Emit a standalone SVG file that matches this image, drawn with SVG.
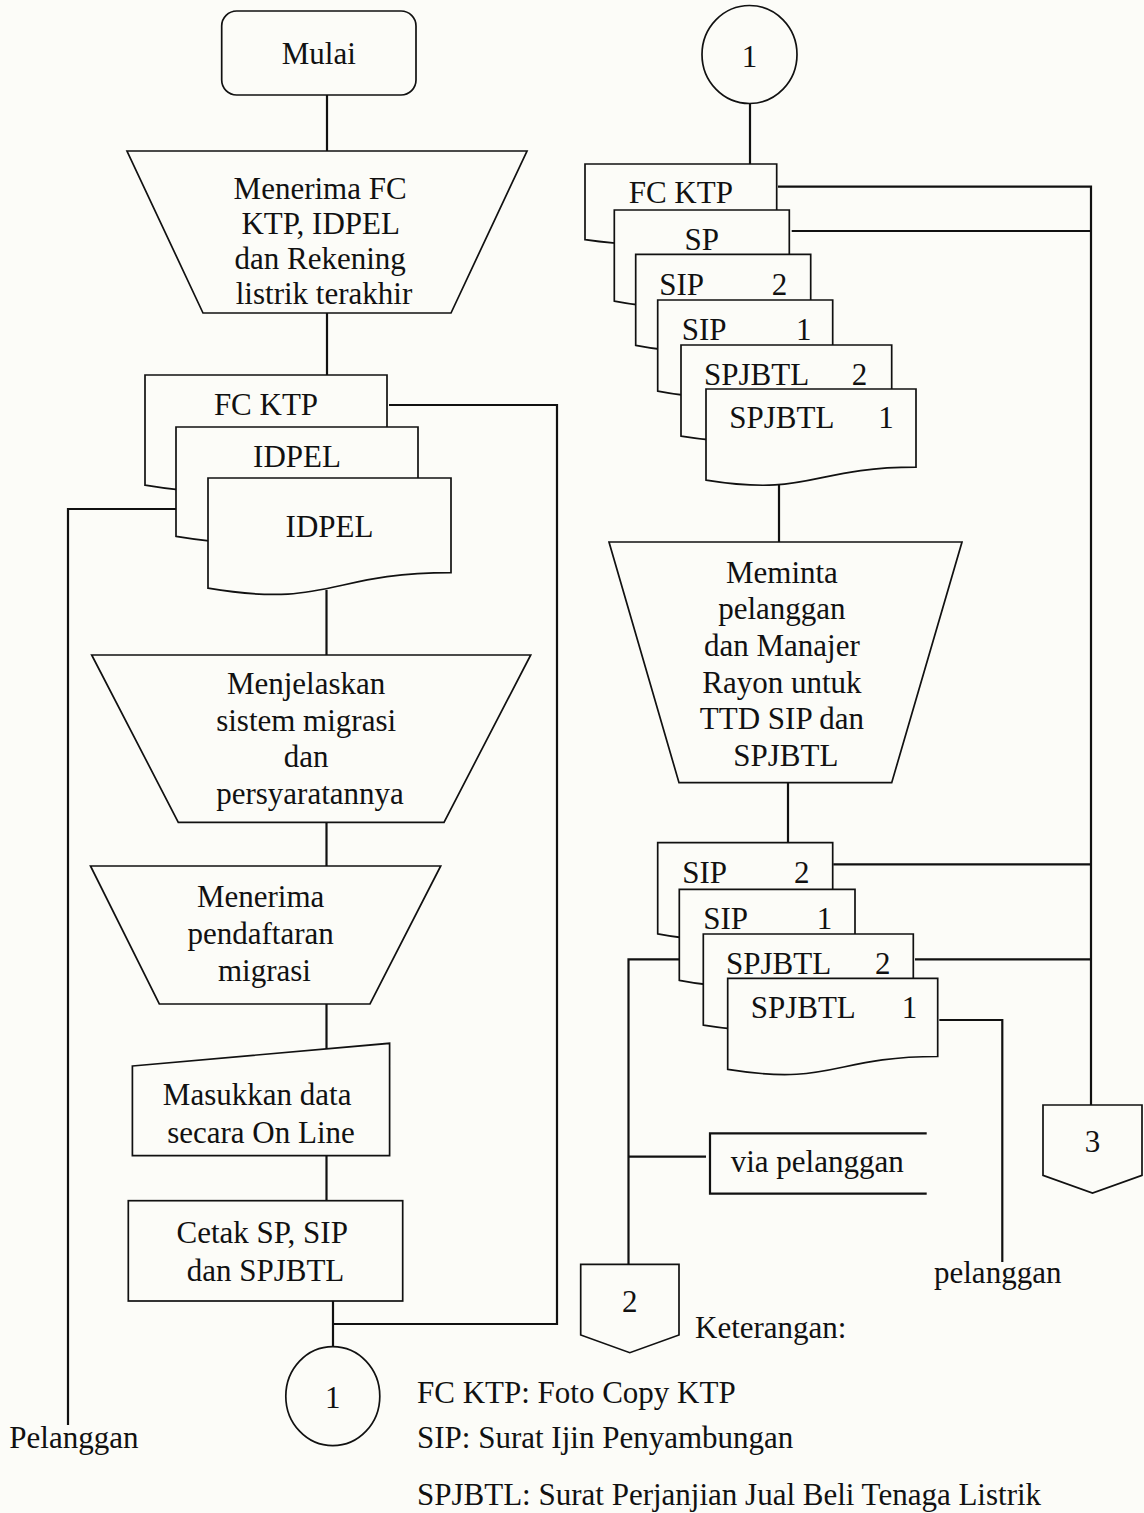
<svg xmlns="http://www.w3.org/2000/svg" width="1144" height="1513" viewBox="0 0 1144 1513">
  <style>
    .bg { fill: #fcfcf8; }
    .shape { fill: #fcfcf8; stroke: #111; stroke-width: 1.7; stroke-linejoin: miter; }
    .open { fill: none; stroke: #111; stroke-width: 2.2; }
    .conn { fill: none; stroke: #111; stroke-width: 2.2; stroke-linejoin: miter; }
    text { font-family: "Liberation Serif", "Times New Roman", serif; font-size: 31px; fill: #111; }
    .c { text-anchor: middle; }
  </style>

  <rect class="bg" x="0" y="0" width="1144" height="1513"/>

  <!-- connectors (drawn first so shapes sit on top) -->
  <g id="connectors">
    <path class="conn" d="M327,95 V151"/>
    <path class="conn" d="M327,313 V375"/>
    <path class="conn" d="M389,405 H557 V1324 H333"/>
    <path class="conn" d="M176,509 H68 V1425"/>
    <path class="conn" d="M326.5,590 V655"/>
    <path class="conn" d="M326.5,822 V866"/>
    <path class="conn" d="M326.5,1004 V1050"/>
    <path class="conn" d="M326.5,1156 V1201"/>
    <path class="conn" d="M333,1301 V1347"/>
    <path class="conn" d="M750,103 V164"/>
    <path class="conn" d="M778,186.7 H1091 V1105"/>
    <path class="conn" d="M791.7,231 H1091"/>
    <path class="conn" d="M779,480 V542"/>
    <path class="conn" d="M788,782 V843"/>
    <path class="conn" d="M833.3,864.3 H1091"/>
    <path class="conn" d="M915,959.3 H1091"/>
    <path class="conn" d="M679.3,959.3 H628.5 V1264"/>
    <path class="conn" d="M628.5,1156.7 H706"/>
    <path class="conn" d="M939.3,1020 H1002.3 V1262"/>
  </g>

  <!-- start terminator -->
  <g id="mulai">
    <rect class="shape" x="221.7" y="11" width="194.3" height="84" rx="15" ry="15"/>
    <text class="c" x="318.8" y="64">Mulai</text>
  </g>

  <!-- manual operation: receive documents -->
  <g id="menerima-fc">
    <polygon class="shape" points="127,151 527,151 451,313 203,313"/>
    <text class="c" x="324" y="199">
      <tspan x="324" y="199">Menerima FC</tspan>
      <tspan x="324" y="234">KTP, IDPEL</tspan>
      <tspan x="324" y="269">dan Rekening</tspan>
      <tspan x="324" y="304">listrik terakhir</tspan>
    </text>
  </g>

  <!-- incoming documents stack -->
  <g id="dok-masuk">
    <path class="shape" d="M145,375 H387 V469.6 C266,469.6 266,505.7 145,485.2 Z"/>
    <text class="c" x="266" y="415">FC KTP</text>
    <path class="shape" d="M176,427 H418 V520.8 C297,520.8 297,556.6 176,536.3 Z"/>
    <text class="c" x="297" y="466.7">IDPEL</text>
    <path class="shape" d="M208,478 H451 V572.6 C329.5,572.6 329.5,608.7 208,588.2 Z"/>
    <text class="c" x="329.5" y="536.7">IDPEL</text>
  </g>

  <g id="menjelaskan">
    <polygon class="shape" points="91.7,655 530.7,655 444,822.3 178.3,822.3"/>
    <text class="c">
      <tspan x="310" y="694">Menjelaskan</tspan>
      <tspan x="310" y="730.5">sistem migrasi</tspan>
      <tspan x="310" y="767.3">dan</tspan>
      <tspan x="310" y="804">persyaratannya</tspan>
    </text>
  </g>

  <g id="menerima-daftar">
    <polygon class="shape" points="90.5,866 440.7,866 370,1004 159.3,1004"/>
    <text class="c">
      <tspan x="264.5" y="907.3">Menerima</tspan>
      <tspan x="264.5" y="944">pendaftaran</tspan>
      <tspan x="264.5" y="981">migrasi</tspan>
    </text>
  </g>

  <!-- manual input -->
  <g id="masukkan">
    <polygon class="shape" points="132.4,1066 389.6,1043.3 389.6,1155.7 132.4,1155.7"/>
    <text class="c">
      <tspan x="261" y="1105">Masukkan data</tspan>
      <tspan x="261" y="1142.7">secara On Line</tspan>
    </text>
  </g>

  <g id="cetak">
    <rect class="shape" x="128.3" y="1200.7" width="274.4" height="100.3"/>
    <text class="c">
      <tspan x="265.5" y="1243">Cetak SP, SIP</tspan>
      <tspan x="265.5" y="1280.7">dan SPJBTL</tspan>
    </text>
  </g>

  <g id="konektor-1-bawah">
    <ellipse class="shape" cx="332.8" cy="1396.2" rx="47" ry="49.5"/>
    <text class="c" x="332.8" y="1407.7">1</text>
  </g>

  <g id="pelanggan-kiri">
    <text x="9.3" y="1448">Pelanggan</text>
  </g>

  <g id="konektor-1-atas">
    <ellipse class="shape" cx="749.5" cy="54.5" rx="47.5" ry="49"/>
    <text class="c" x="749.5" y="66.7">1</text>
  </g>

  <!-- printed documents stack -->
  <g id="dok-cetak">
    <path class="shape" d="M585,164 H776.7 V229 C680.8,229 680.8,253.7 585,239.7 Z"/>
    <text class="c" x="680.8" y="203">FC KTP</text>
    <path class="shape" d="M614.3,210 H789.3 V288.2 C701.8,288.2 701.8,318 614.3,301.1 Z"/>
    <text class="c" x="701.8" y="250">SP</text>
    <path class="shape" d="M635.7,254.3 H810.7 V332.5 C723.2,332.5 723.2,362.3 635.7,345.4 Z"/>
    <text x="659.3" y="295">SIP</text><text x="771.7" y="295">2</text>
    <path class="shape" d="M657.7,300 H832.7 V378.2 C745.2,378.2 745.2,408 657.7,391.1 Z"/>
    <text x="681.7" y="340">SIP</text><text x="796" y="340">1</text>
    <path class="shape" d="M681,345 H891.7 V423.2 C786.35,423.2 786.35,453 681,436.1 Z"/>
    <text x="704" y="385">SPJBTL</text><text x="851.7" y="385">2</text>
    <path class="shape" d="M706,389 H916 V467.2 C811,467.2 811,497 706,480.1 Z"/>
    <text x="729.3" y="428.3">SPJBTL</text><text x="878.3" y="428.3">1</text>
  </g>

  <g id="meminta-ttd">
    <polygon class="shape" points="609,542 962,542 891.7,782.7 679,782.7"/>
    <text class="c">
      <tspan x="785.8" y="582.7">Meminta</tspan>
      <tspan x="785.8" y="619">pelanggan</tspan>
      <tspan x="785.8" y="655.5">dan Manajer</tspan>
      <tspan x="785.8" y="692.5">Rayon untuk</tspan>
      <tspan x="785.8" y="729.3">TTD SIP dan</tspan>
      <tspan x="785.8" y="766">SPJBTL</tspan>
    </text>
  </g>

  <!-- signed documents stack -->
  <g id="dok-ttd">
    <path class="shape" d="M657.7,842.7 H832.7 V920.9 C745.2,920.9 745.2,950.7 657.7,933.8 Z"/>
    <text x="682.3" y="883.3">SIP</text><text x="794" y="883.3">2</text>
    <path class="shape" d="M679.3,889.3 H855 V967.5 C767.15,967.5 767.15,997.3 679.3,980.4 Z"/>
    <text x="703.3" y="929.3">SIP</text><text x="816.7" y="929.3">1</text>
    <path class="shape" d="M703.3,934 H913.3 V1012.2 C808.3,1012.2 808.3,1042 703.3,1025.1 Z"/>
    <text x="726" y="974">SPJBTL</text><text x="875" y="974">2</text>
    <path class="shape" d="M727.7,978.3 H937.7 V1056.5 C832.7,1056.5 832.7,1086.3 727.7,1069.4 Z"/>
    <text x="750.7" y="1018.3">SPJBTL</text><text x="901.7" y="1018.3">1</text>
  </g>

  <!-- annotation bracket -->
  <g id="via-pelanggan">
    <path class="open" d="M926.7,1133.3 H710 V1193.7 H926.7"/>
    <text x="730.7" y="1171.7">via pelanggan</text>
  </g>

  <g id="pelanggan-kanan">
    <text x="934" y="1283.3">pelanggan</text>
  </g>

  <!-- off-page connectors -->
  <g id="offpage-2">
    <polygon class="shape" points="580.7,1264.3 679,1264.3 679,1335 629.8,1352.7 580.7,1335"/>
    <text class="c" x="629.8" y="1311.7">2</text>
  </g>

  <g id="offpage-3">
    <polygon class="shape" points="1043,1105 1142,1105 1142,1175.4 1092.5,1193 1043,1175.4"/>
    <text class="c" x="1092.5" y="1151.7">3</text>
  </g>

  <!-- legend -->
  <g id="keterangan">
    <text x="695" y="1338.3">Keterangan:</text>
    <text x="417" y="1402.7">FC KTP: Foto Copy KTP</text>
    <text x="417" y="1448">SIP: Surat Ijin Penyambungan</text>
    <text x="417" y="1505">SPJBTL: Surat Perjanjian Jual Beli Tenaga Listrik</text>
  </g>
</svg>
